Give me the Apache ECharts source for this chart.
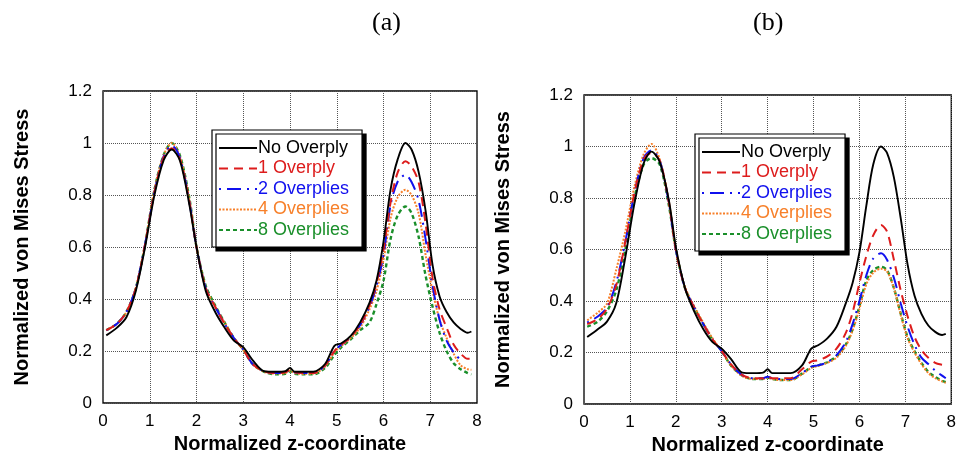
<!DOCTYPE html>
<html>
<head>
<meta charset="utf-8">
<script src="https://cdn.jsdelivr.net/npm/echarts@6/dist/echarts.min.js"></script>
<style>
  html, body { margin: 0; padding: 0; background: #fff; }
  #main { width: 959px; height: 463px; }
</style>
</head>
<body>
<div id="main"></div>
<script>
  var zGrid = [0.07, 0.3, 0.5, 0.7, 0.9, 1.1, 1.3, 1.47, 1.65, 1.85, 2.0, 2.2, 2.4, 2.6, 2.8, 3.0, 3.2, 3.45, 3.7, 3.9, 4.0, 4.1, 4.3, 4.5, 4.75, 4.95, 5.1, 5.3, 5.5, 5.7, 5.85, 6.0, 6.15, 6.3, 6.47, 6.6, 6.75, 6.9, 7.05, 7.2, 7.35, 7.5, 7.65, 7.8, 7.88];

  var seriesNames = ['No Overply', '1 Overply', '2 Overplies', '4 Overplies', '8 Overplies'];
  var xTicks = [0, 1, 2, 3, 4, 5, 6, 7, 8];
  var yTicks = [0, 0.2, 0.4, 0.6, 0.8, 1, 1.2];

  // (a)
  var aNone = [0.26, 0.29, 0.33, 0.43, 0.60, 0.80, 0.935, 0.975, 0.93, 0.76, 0.60, 0.43, 0.35, 0.29, 0.24, 0.215, 0.165, 0.122, 0.12, 0.122, 0.135, 0.12, 0.12, 0.12, 0.15, 0.22, 0.23, 0.258, 0.31, 0.385, 0.47, 0.62, 0.82, 0.935, 1.0, 0.975, 0.89, 0.74, 0.53, 0.41, 0.35, 0.31, 0.285, 0.27, 0.275];
  var aOne = [0.28, 0.305, 0.35, 0.44, 0.61, 0.81, 0.945, 0.98, 0.935, 0.77, 0.60, 0.44, 0.37, 0.305, 0.25, 0.205, 0.15, 0.122, 0.115, 0.118, 0.128, 0.118, 0.115, 0.115, 0.145, 0.20, 0.225, 0.255, 0.30, 0.375, 0.46, 0.59, 0.77, 0.885, 0.93, 0.91, 0.85, 0.69, 0.48, 0.36, 0.29, 0.225, 0.19, 0.17, 0.17];
  var aTwo = [0.28, 0.305, 0.35, 0.44, 0.61, 0.81, 0.95, 0.99, 0.94, 0.77, 0.60, 0.44, 0.37, 0.305, 0.25, 0.205, 0.15, 0.122, 0.115, 0.118, 0.128, 0.118, 0.115, 0.115, 0.145, 0.20, 0.225, 0.255, 0.30, 0.37, 0.45, 0.57, 0.76, 0.85, 0.878, 0.85, 0.78, 0.63, 0.45, 0.32, 0.24, 0.195, 0.165, null, null];
  var aFour = [0.28, 0.305, 0.35, 0.44, 0.61, 0.82, 0.955, 1.0, 0.945, 0.78, 0.60, 0.445, 0.37, 0.31, 0.25, 0.205, 0.15, 0.12, 0.113, 0.115, 0.125, 0.115, 0.112, 0.113, 0.14, 0.195, 0.22, 0.25, 0.29, 0.36, 0.43, 0.55, 0.71, 0.79, 0.82, 0.80, 0.73, 0.57, 0.43, 0.32, 0.25, 0.19, 0.145, 0.13, 0.128];
  var aEight = [0.28, 0.305, 0.35, 0.44, 0.61, 0.82, 0.955, 1.0, 0.95, 0.785, 0.60, 0.45, 0.375, 0.31, 0.25, 0.205, 0.15, 0.12, 0.11, 0.112, 0.122, 0.112, 0.11, 0.11, 0.135, 0.185, 0.215, 0.245, 0.28, 0.31, 0.38, 0.47, 0.63, 0.72, 0.756, 0.73, 0.64, 0.49, 0.37, 0.27, 0.20, 0.153, 0.13, 0.115, 0.11];

  // (b)
  var bNone = [0.26, 0.29, 0.32, 0.39, 0.57, 0.78, 0.935, 0.98, 0.94, 0.79, 0.61, 0.45, 0.36, 0.29, 0.24, 0.215, 0.175, 0.122, 0.12, 0.122, 0.135, 0.12, 0.12, 0.12, 0.15, 0.215, 0.228, 0.255, 0.30, 0.39, 0.47, 0.59, 0.77, 0.93, 1.0, 0.975, 0.88, 0.72, 0.54, 0.42, 0.35, 0.305, 0.28, 0.268, 0.272];
  var bOne = [0.31, 0.33, 0.37, 0.46, 0.63, 0.82, 0.95, 0.975, 0.945, 0.78, 0.60, 0.45, 0.375, 0.31, 0.25, 0.205, 0.155, 0.112, 0.10, 0.10, 0.106, 0.10, 0.10, 0.10, 0.135, 0.165, 0.17, 0.185, 0.215, 0.275, 0.355, 0.47, 0.575, 0.655, 0.695, 0.67, 0.56, 0.44, 0.34, 0.26, 0.21, 0.18, 0.16, 0.152, 0.15];
  var bTwo = [0.316, 0.34, 0.375, 0.47, 0.63, 0.82, 0.955, 0.985, 0.945, 0.78, 0.60, 0.45, 0.375, 0.31, 0.25, 0.205, 0.155, 0.112, 0.10, 0.10, 0.106, 0.10, 0.097, 0.097, 0.12, 0.145, 0.15, 0.162, 0.19, 0.24, 0.31, 0.40, 0.50, 0.565, 0.585, 0.56, 0.49, 0.39, 0.30, 0.23, 0.18, 0.155, 0.13, 0.11, 0.10];
  var bFour = [0.325, 0.355, 0.39, 0.52, 0.67, 0.845, 0.97, 1.01, 0.95, 0.785, 0.60, 0.455, 0.38, 0.315, 0.255, 0.205, 0.15, 0.108, 0.097, 0.097, 0.103, 0.097, 0.093, 0.093, 0.115, 0.14, 0.148, 0.16, 0.18, 0.225, 0.285, 0.37, 0.465, 0.51, 0.525, 0.515, 0.45, 0.345, 0.255, 0.20, 0.155, 0.12, 0.10, 0.088, 0.082];
  var bEight = [0.30, 0.32, 0.36, 0.44, 0.60, 0.80, 0.93, 0.955, 0.93, 0.77, 0.60, 0.45, 0.375, 0.31, 0.25, 0.205, 0.15, 0.11, 0.097, 0.097, 0.103, 0.097, 0.093, 0.093, 0.118, 0.143, 0.15, 0.162, 0.185, 0.23, 0.29, 0.38, 0.48, 0.52, 0.533, 0.52, 0.45, 0.35, 0.26, 0.205, 0.16, 0.125, 0.105, 0.09, 0.085];

  var colors = ['#000000', '#dd1c1c', '#1010ee', '#f7802a', '#1a8f2a'];
  var dashes = ['solid', [9, 6], [2, 6, 14, 6], [2, 1.5], [4, 3]];
  var widths = [1.9, 2, 2, 2, 2.4];

  function pairs(vals) {
    return zGrid.map(function (z, i) { return [z, vals[i]]; });
  }

  function makeSeries(idx, lists) {
    return lists.map(function (vals, k) {
      return {
        name: seriesNames[k],
        type: 'line',
        xAxisIndex: idx,
        yAxisIndex: idx,
        symbol: 'none',
        smooth: 0.3,
        z: 10 - k,
        lineStyle: { color: colors[k], width: widths[k], type: dashes[k] },
        itemStyle: { color: colors[k] },
        data: pairs(vals)
      };
    });
  }

  function xAxisFor(idx) {
    return {
      gridIndex: idx, type: 'value', min: 0, max: 8, interval: 1,
      name: 'Normalized z-coordinate', nameLocation: 'middle', nameGap: 31,
      nameTextStyle: { fontFamily: 'Liberation Sans', fontWeight: 'bold', fontSize: 20, color: '#000' },
      axisLine: { show: false }, axisTick: { show: false },
      axisLabel: { fontFamily: 'Liberation Sans', fontSize: 17, color: '#000', margin: 10 },
      splitLine: { show: true, lineStyle: { color: '#555', type: 'dotted', width: 1 } }
    };
  }

  function yAxisFor(idx) {
    return {
      gridIndex: idx, type: 'value', min: 0, max: 1.2, interval: 0.2,
      name: 'Normalized von Mises Stress', nameLocation: 'middle', nameGap: 71,
      nameTextStyle: { fontFamily: 'Liberation Sans', fontWeight: 'bold', fontSize: 20, color: '#000' },
      axisLine: { show: false }, axisTick: { show: false },
      axisLabel: { fontFamily: 'Liberation Sans', fontSize: 17, color: '#000', margin: 11 },
      splitLine: { show: true, lineStyle: { color: '#555', type: 'dotted', width: 1 } }
    };
  }

  function legendFor(left, top) {
    return {
      orient: 'vertical', left: left, top: top,
      data: seriesNames.map(function (n, k) {
        return { name: n, textStyle: { color: colors[k] } };
      }),
      itemWidth: 38, itemHeight: 14, itemGap: 2.5,
      itemStyle: { opacity: 0 },
      padding: [9, 13, 8, 6],
      backgroundColor: '#fff', borderColor: '#000', borderWidth: 1.2,
      shadowColor: '#000', shadowOffsetX: 4, shadowOffsetY: 4, shadowBlur: 0.01,
      selectedMode: false,
      textStyle: { fontFamily: 'Liberation Sans', fontSize: 18, padding: [0, 0, 0, -4] }
    };
  }

  var chart = echarts.init(document.getElementById('main'));
  chart.setOption({
    animation: false,
    backgroundColor: '#fff',
    title: [
      { text: '(a)', left: 367, top: 5, textStyle: { fontFamily: 'Liberation Serif', fontWeight: 'normal', fontSize: 26, color: '#000' } },
      { text: '(b)', left: 748, top: 5, textStyle: { fontFamily: 'Liberation Serif', fontWeight: 'normal', fontSize: 26, color: '#000' } }
    ],
    grid: [
      { left: 103, top: 91, width: 374, height: 312, show: true, borderColor: '#000', borderWidth: 1.3, backgroundColor: 'transparent' },
      { left: 584, top: 95, width: 370, height: 309, show: true, borderColor: '#000', borderWidth: 1.3, backgroundColor: 'transparent' }
    ],
    xAxis: [xAxisFor(0), xAxisFor(1)],
    yAxis: [yAxisFor(0), yAxisFor(1)],
    legend: [legendFor(212, 130), legendFor(695, 134)],
    series: makeSeries(0, [aNone, aOne, aTwo, aFour, aEight])
      .concat(makeSeries(1, [bNone, bOne, bTwo, bFour, bEight]))
  });
</script>
</body>
</html>
